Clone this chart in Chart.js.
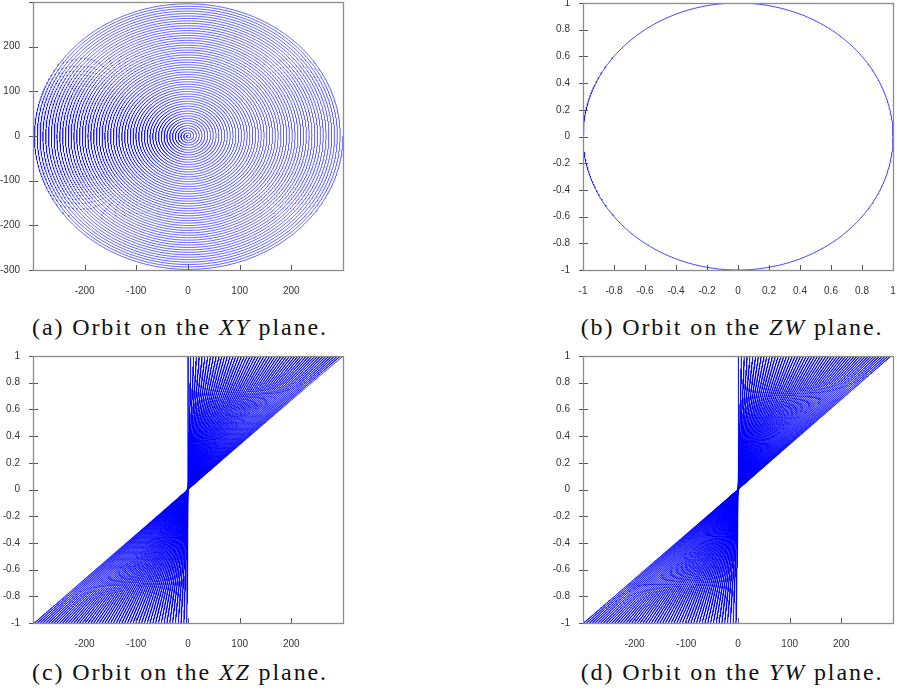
<!DOCTYPE html>
<html>
<head>
<meta charset="utf-8">
<script src="https://cdn.jsdelivr.net/npm/chart.js@4"></script>
<style>
  body { margin: 0; background: #fff; }
  #page { position: relative; width: 897px; height: 694px; overflow: hidden; }
  canvas { position: absolute; }
  .cap {
    position: absolute; width: 360px; text-align: center; white-space: nowrap;
    font-family: "Liberation Serif", serif; font-size: 24px; line-height: 26px;
    letter-spacing: 1.9px; color: #111;
  }
</style>
</head>
<body>
<div id="page">
  <canvas id="xy" width="345" height="295" style="left:0;top:0"></canvas>
  <canvas id="zw" width="357" height="295" style="left:540px;top:0"></canvas>
  <canvas id="xz" width="345" height="304" style="left:0;top:344px"></canvas>
  <canvas id="yw" width="357" height="304" style="left:540px;top:344px"></canvas>
  <div class="cap" style="left:0;top:314px">(a) Orbit on the <i>XY</i> plane.</div>
  <div class="cap" style="left:552px;top:314px">(b) Orbit on the <i>ZW</i> plane.</div>
  <div class="cap" style="left:0;top:659px">(c) Orbit on the <i>XZ</i> plane.</div>
  <div class="cap" style="left:552px;top:659px">(d) Orbit on the <i>YW</i> plane.</div>
</div>
<script>
// orbit: about 55 turns, radius growing out to 300
const turns = 55;
const maxRadius = 300;
const stepsPerTurn = 611;

// tick values and labels
const spaceTicks = [-300, -200, -100, 0, 100, 200, 300];
const spaceXLabels = ["", "-200", "-100", "0", "100", "200", ""];
const spaceYLabels = ["-300", "-200", "-100", "0", "100", "200", ""];
const unitTicks = [-1, -0.8, -0.6, -0.4, -0.2, 0, 0.2, 0.4, 0.6, 0.8, 1];
const unitLabels = ["-1", "-0.8", "-0.6", "-0.4", "-0.2", "0", "0.2", "0.4", "0.6", "0.8", "1"];

// the orbit: x,y spiral out while z,w go round the unit circle
const orbitX = [], orbitY = [], orbitZ = [], orbitW = [];
const n = turns * stepsPerTurn;
for (let i = 0; i <= n; i++) {
    const t = 2 * Math.PI * i / stepsPerTurn;
    const r = maxRadius * i / n;
    orbitZ.push(Math.cos(t));
    orbitW.push(Math.sin(t));
    orbitX.push(r * Math.cos(t));
    orbitY.push(r * Math.sin(t));
}

// z,w repeat every turn, so the last turn is enough for the ZW plot
const lastTurn = n - stepsPerTurn;

const framePlugin = {
    id: "frame",
    afterDraw(chart) {
        const ctx = chart.ctx;
        const a = chart.chartArea;
        ctx.save();
        ctx.strokeStyle = "#555";
        ctx.lineWidth = 1;
        ctx.beginPath();
        chart.scales.x.ticks.forEach(t => {
            const px = Math.round(chart.scales.x.getPixelForValue(t.value)) + 0.5;
            ctx.moveTo(px, a.bottom);
            ctx.lineTo(px, a.bottom - 5);
        });
        chart.scales.y.ticks.forEach(t => {
            const py = Math.round(chart.scales.y.getPixelForValue(t.value)) + 0.5;
            ctx.moveTo(a.left - 4, py);
            ctx.lineTo(a.left + 5, py);
        });
        ctx.stroke();
        ctx.strokeStyle = "#8c8c8c";
        ctx.lineWidth = 1.3;
        ctx.strokeRect(Math.round(a.left) + 0.5, Math.round(a.top) + 0.5,
            Math.round(a.right - a.left), Math.round(a.bottom - a.top));
        ctx.restore();
    }
};

function noPad(s) {
    s.paddingTop = 0;
    s.paddingBottom = 0;
    s.paddingLeft = 0;
    s.paddingRight = 0;
}

function axis(ticks, labels, pad, fit) {
    return {
        type: "linear",
        min: ticks[0],
        max: ticks[ticks.length - 1],
        grid: { display: false },
        border: { display: false },
        afterBuildTicks: s => { s.ticks = ticks.map(v => ({ value: v })); },
        afterFit: s => { fit(s); noPad(s); },
        ticks: {
            autoSkip: false,
            maxRotation: 0,
            padding: pad,
            color: "#333",
            font: { family: "Liberation Sans", size: 10 },
            callback: (v, i) => labels[i]
        }
    };
}

function makeChart(id, xs, ys, xTicks, xLabels, yTicks, yLabels, yWidth, pad, colour) {
    const pts = xs.map((v, i) => ({ x: v, y: ys[i] }));
    new Chart(document.getElementById(id), {
        type: "scatter",
        plugins: [framePlugin],
        data: {
            datasets: [{
                data: pts,
                showLine: true,
                pointRadius: 0,
                borderColor: colour,
                borderWidth: 0.9,
                borderJoinStyle: "round",
                tension: 0
            }]
        },
        options: {
            responsive: false,
            animation: false,
            parsing: false,
            normalized: true,
            events: [],
            layout: { padding: pad },
            plugins: { legend: { display: false }, tooltip: { enabled: false } },
            scales: {
                x: axis(xTicks, xLabels, 7, s => { s.height = 25; }),
                y: axis(yTicks, yLabels, 5, s => { s.width = yWidth; })
            }
        }
    });
}

makeChart("xy", orbitX, orbitY, spaceTicks, spaceXLabels, spaceTicks, spaceYLabels, 33,
    { top: 2, right: 2, left: 0, bottom: 0 }, "rgba(0,0,255,0.7)");
makeChart("zw", orbitZ.slice(lastTurn), orbitW.slice(lastTurn), unitTicks, unitLabels,
    unitTicks, unitLabels, 43, { top: 3, right: 4, left: 0, bottom: 0 }, "rgba(0,0,255,0.85)");
makeChart("xz", orbitX, orbitZ, spaceTicks, spaceXLabels, unitTicks, unitLabels, 33,
    { top: 12, right: 2, left: 0, bottom: 0 }, "rgba(0,0,255,0.85)");
makeChart("yw", orbitY, orbitW, spaceTicks, spaceXLabels, unitTicks, unitLabels, 43,
    { top: 12, right: 4, left: 0, bottom: 0 }, "rgba(0,0,255,0.85)");
</script>
</body>
</html>
